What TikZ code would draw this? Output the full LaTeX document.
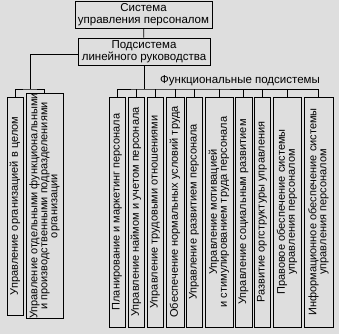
\documentclass[tikz,border=0pt]{standalone}
\usepackage{fontspec}
\setmainfont{Liberation Sans}
\usepackage{xcolor}
\usepackage{tikz}
\usetikzlibrary{positioning}
\definecolor{paper}{RGB}{222,222,222}

\begin{document}
\begin{tikzpicture}[
  x=1pt, y=-1pt,
  box/.style={draw, line width=0.8pt, inner sep=0pt, align=center,
    font=\fontsize{11.5}{12}\selectfont},
  vbox/.style={box, rotate=90, minimum width=230pt, font=\fontsize{11}{10}\selectfont},
  link/.style={draw, line width=0.8pt}]
\fill[paper] (0,0) rectangle (339,334);
\useasboundingbox (0,0) rectangle (339,334);
\node[box, minimum width=137pt, minimum height=27pt] (sys) at (143.5,14.5)
  {Система\\ управления персоналом};
\node[box, minimum width=132pt, minimum height=27pt] (lin) at (144,51.5)
  {Подсистема\\ линейного руководства};
\node[font=\fontsize{11.5}{12}\selectfont] (func) at (240,81) {Функциональные подсистемы};
% linear management
\node[vbox, minimum width=218pt, minimum height=16pt] (org1) at (15,206)
  {Управление организацией в целом};
\node[vbox, minimum width=218pt, minimum height=37pt] (org2) at (44.5,206)
  {Управление отдельными функциональными\\ и производственными подразделениями\\ организации};
% functional subsystems
\node[vbox, minimum height=16pt] (f1) at (117,212) {Планирование и маркетинг персонала};
\node[vbox, minimum height=16pt] (f2) at (136,212) {Управление наймом и учетом персонала};
\node[vbox, minimum height=16pt] (f3) at (155,212) {Управление трудовыми отношениями};
\node[vbox, minimum height=18pt] (f4) at (175,212) {Обеспечение нормальных условий труда};
\node[vbox, minimum height=16pt] (f5) at (194,212) {Управление развитием персонала};
\node[vbox, minimum height=28pt] (f6) at (219,212)
  {Управление мотивацией\\ и стимулированием труда персонала};
\node[vbox, minimum height=17pt] (f7) at (243.5,212) {Управление социальным развитием};
\node[vbox, minimum height=16pt] (f8) at (262,212) {Развитие оргструктуры управления};
\node[vbox, minimum height=28pt] (f9) at (287,212)
  {Правовое обеспечение системы\\ управления персоналом};
\node[vbox, minimum height=29pt] (f10) at (318.5,212)
  {Информационное обеспечение системы\\ управления персоналом};
\coordinate (lbar) at (30,89);
\coordinate (fbar) at (144,89);
\path[link] (sys) -- (lin);
\path[link] ([yshift=-3pt]lin.west) -| (lbar);
\path[link] (org1.east) |- (lbar) -| (org2.east);
\path[link] (lin.south) -- (fbar);
\path[link] (f1.east) |- (fbar) -| (f10.east);
\foreach \i in {2,...,9}
  \path[link] (f\i.east) -- (f\i.east |- fbar);
\end{tikzpicture}
\end{document}
